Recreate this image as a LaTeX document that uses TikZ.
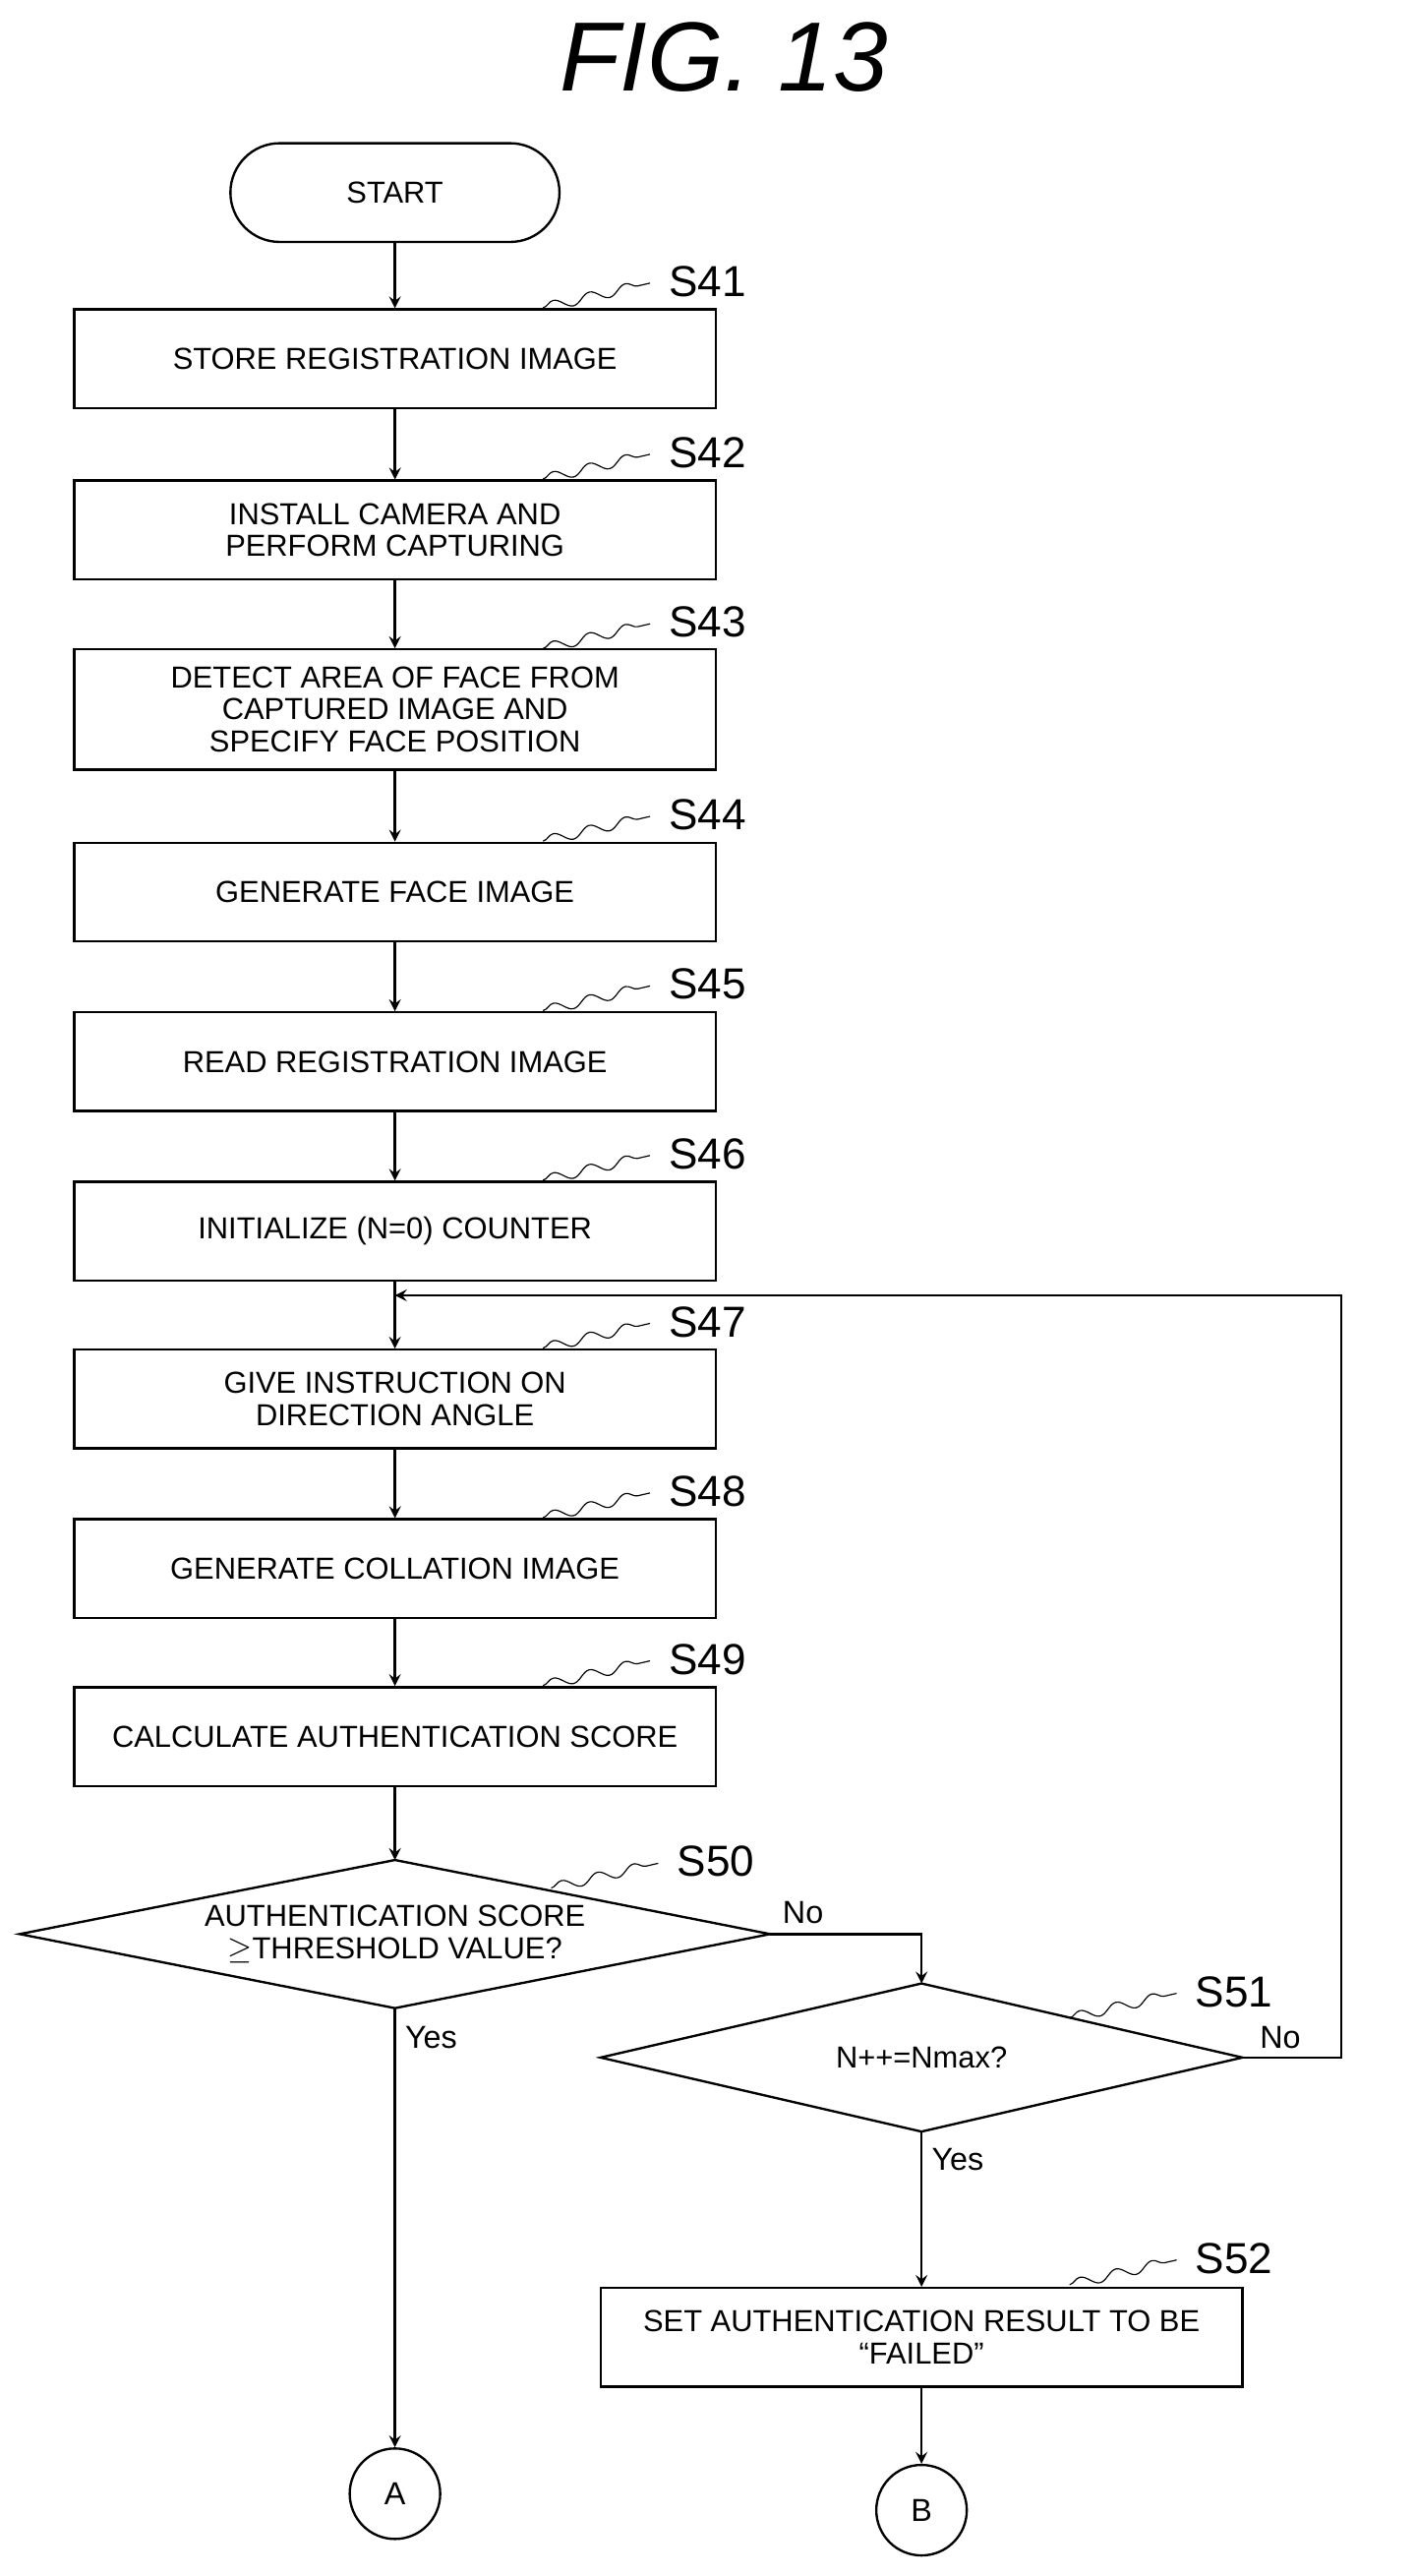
\documentclass[tikz,border=0pt]{standalone}
\usepackage{fontspec}
\setmainfont{Liberation Sans}
\usetikzlibrary{decorations.pathmorphing,calc}
\tikzset{
  procbox/.style={draw,thick,minimum width=7.8cm,minimum height=1.2cm,align=center,inner sep=1pt,font=\fontsize{10.5}{11}\selectfont},
  term/.style={draw,thick,rounded corners=0.6cm,minimum width=4cm,minimum height=1.2cm,font=\fontsize{10.5}{11}\selectfont},
  condtext/.style={align=center,inner sep=0pt,font=\fontsize{10.5}{11}\selectfont},
  conn/.style={draw,thick,circle,minimum size=1.1cm,font=\fontsize{11}{12}\selectfont},
  flow/.style={thick,->,>=stealth},
  squig/.style={decorate,decoration={snake,amplitude=0.6mm,segment length=4.5mm}},
  lbl/.style={font=\fontsize{15}{16}\selectfont},
  ans/.style={font=\fontsize{11}{12}\selectfont}
}
\newcommand{\steplabel}[2]{%
  \draw[squig] (#1) -- ++(65,-15);
  \node[lbl] at ($(#1)+(100,-16)$) {#2};}
\begin{document}
\begin{tikzpicture}[x=0.02cm,y=-0.02cm]
\useasboundingbox (0,0) rectangle (860,1565);
\node[font=\itshape\fontsize{34}{36}\selectfont] (title) at (440,35) {FIG. 13};

\node[term] (start) at (240,117) {START};
\node[procbox] (s41) at (240,218) {STORE REGISTRATION IMAGE};
\node[procbox] (s42) at (240,322) {INSTALL CAMERA AND\\PERFORM CAPTURING};
\node[procbox,minimum height=1.46cm] (s43) at (240,431) {DETECT AREA OF FACE FROM\\CAPTURED IMAGE AND\\SPECIFY FACE POSITION};
\node[procbox] (s44) at (240,542) {GENERATE FACE IMAGE};
\node[procbox] (s45) at (240,645) {READ REGISTRATION IMAGE};
\node[procbox] (s46) at (240,748) {INITIALIZE (N=0) COUNTER};
\node[procbox] (s47) at (240,850) {GIVE INSTRUCTION ON\\DIRECTION ANGLE};
\node[procbox] (s48) at (240,953) {GENERATE COLLATION IMAGE};
\node[procbox] (s49) at (240,1055) {CALCULATE AUTHENTICATION SCORE};
\node[procbox] (s52) at (560,1420) {SET AUTHENTICATION RESULT TO BE\\``FAILED''};
\node[conn] (a) at (240,1515) {A};
\node[conn] (b) at (560,1525) {B};

% decisions
\coordinate (s50n) at (240,1130);
\coordinate (s50e) at (468,1175);
\coordinate (s50s) at (240,1220);
\coordinate (s50w) at (12,1175);
\draw[thick] (s50n) -- (s50e) -- (s50s) -- (s50w) -- cycle;
\node[condtext] (s50) at (240,1175) {AUTHENTICATION SCORE\\$\geq$THRESHOLD VALUE?};
\coordinate (s51n) at (560,1205);
\coordinate (s51e) at (755,1250);
\coordinate (s51s) at (560,1295);
\coordinate (s51w) at (365,1250);
\draw[thick] (s51n) -- (s51e) -- (s51s) -- (s51w) -- cycle;
\node[condtext] (s51) at (560,1250) {N++=Nmax?};

\coordinate (loop) at (240,787);
\coordinate (r1) at (815,1250);
\coordinate (r2) at (815,787);
\coordinate (t1) at (560,1175);

\draw[flow] (start) -- (s41);
\draw[flow] (s41) -- (s42);
\draw[flow] (s42) -- (s43);
\draw[flow] (s43) -- (s44);
\draw[flow] (s44) -- (s45);
\draw[flow] (s45) -- (s46);
\draw[flow] (s46) -- (s47);
\draw[flow] (s47) -- (s48);
\draw[flow] (s48) -- (s49);
\draw[flow] (s49) -- (s50n);
\draw[flow] (s50s) -- (a);
\draw[flow] (s50e) -- (t1) -- (s51n);
\draw[flow] (s51e) -- (r1) -- (r2) -- (loop);
\draw[flow] (s51s) -- (s52);
\draw[flow] (s52) -- (b);

\node[ans] at (488,1162) {No};
\node[ans] at (778,1238) {No};
\node[ans] at (262,1238) {Yes};
\node[ans] at (582,1312) {Yes};

\coordinate (q41) at (330,187);
\coordinate (q42) at (330,291);
\coordinate (q43) at (330,394);
\coordinate (q44) at (330,511);
\coordinate (q45) at (330,614);
\coordinate (q46) at (330,717);
\coordinate (q47) at (330,819);
\coordinate (q48) at (330,922);
\coordinate (q49) at (330,1024);
\coordinate (q50) at (335,1147);
\coordinate (q51) at (650,1226);
\coordinate (q52) at (650,1388);
\steplabel{q41}{S41}
\steplabel{q42}{S42}
\steplabel{q43}{S43}
\steplabel{q44}{S44}
\steplabel{q45}{S45}
\steplabel{q46}{S46}
\steplabel{q47}{S47}
\steplabel{q48}{S48}
\steplabel{q49}{S49}
\steplabel{q50}{S50}
\steplabel{q51}{S51}
\steplabel{q52}{S52}
\end{tikzpicture}
\end{document}
